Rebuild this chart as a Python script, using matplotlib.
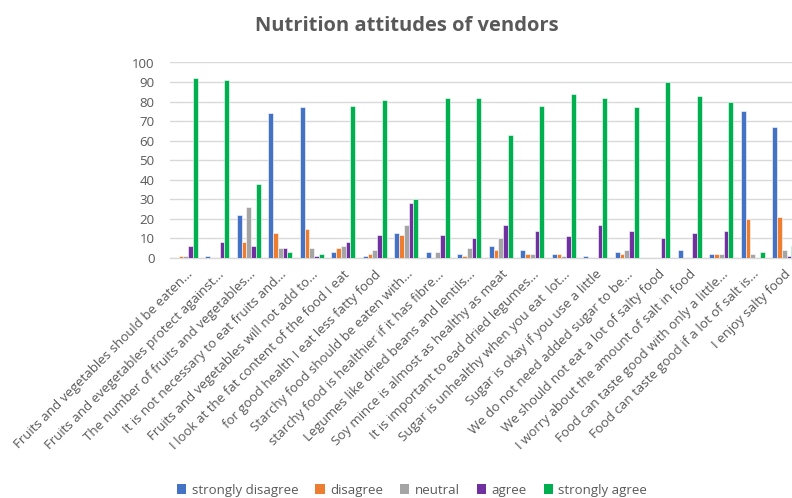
import numpy as np
import matplotlib
matplotlib.use("Agg")
import matplotlib.pyplot as plt
from matplotlib.patches import Patch

# ── Data ───────────────────────────────────────────────────────────────────
statements = [
    "Fruits and vegetables should be eaten...",
    "Fruits and evegetables protect against...",
    "The number of fruits and vegetables...",
    "It is not necessary to eat fruits and...",
    "Fruits and vegetables will not add to...",
    "I look at the fat content of the food I eat",
    "for good health I eat less fatty food",
    "Starchy food should be eaten with...",
    "starchy food is healthier if it has fibre...",
    "Legumes like dried beans and lentils...",
    "Soy mince is almost as healthy as meat",
    "It is important to ead dried legumes...",
    "Sugar is unhealthy when you eat  lot...",
    "Sugar is okay if you use a little",
    "We do not need added sugar to be...",
    "We should not eat a lot of salty food",
    "I worry about the amount of salt in food",
    "Food can taste good with only a little...",
    "Food can taste good if a lot of salt is...",
    "I enjoy salty food",
]

strongly_disagree = [0, 1, 22, 74, 77, 3, 1, 13, 3, 2, 6, 4, 2, 1, 3, 0, 4, 2, 75, 67]
disagree          = [1, 0, 8, 13, 15, 5, 2, 12, 0, 1, 4, 2, 2, 0, 2, 0, 0, 2, 20, 21]
neutral           = [1, 0, 26, 5, 5, 6, 4, 17, 3, 5, 10, 2, 1, 0, 4, 0, 0, 2, 2, 4]
agree             = [6, 8, 6, 5, 1, 8, 12, 28, 12, 10, 17, 14, 11, 17, 14, 10, 13, 14, 0, 1]
strongly_agree    = [92, 91, 38, 3, 2, 78, 81, 30, 82, 82, 63, 78, 84, 82, 77, 90, 83, 80, 3, 6]

series = [
    ("strongly disagree", strongly_disagree, "#4472C4"),
    ("disagree",          disagree,          "#ED7D31"),
    ("neutral",           neutral,           "#A5A5A5"),
    ("agree",             agree,             "#7030A0"),
    ("strongly agree",    strongly_agree,    "#00B050"),
]

# ── Style ──────────────────────────────────────────────────────────────────
TXT   = "#595959"
GRID  = "#D9D9D9"
FONT  = "Open Sans"
W, H  = 792, 498
BAR_W = 0.15

plt.rcParams["font.family"] = FONT

fig = plt.figure(figsize=(W / 100, H / 100), dpi=100)
# plot area: x 170..800 px (last bar clipped like the original), y 62..258 px
ax = fig.add_axes([170 / W, (H - 258) / H, 630 / W, (258 - 62.5) / H])

x = np.arange(len(statements))
for i, (name, vals, colour) in enumerate(series):
    ax.bar(x + (i - 2) * BAR_W, vals, width=BAR_W, color=colour,
           edgecolor="white", linewidth=0.4, label=name, zorder=3)

ax.set_xlim(-0.5, len(statements) - 0.5)
ax.set_ylim(0, 100)
ax.set_yticks(range(0, 101, 10))
ax.yaxis.grid(True, color=GRID, lw=1.0)
ax.set_axisbelow(True)
for s in ("top", "right", "left"):
    ax.spines[s].set_visible(False)
ax.spines["bottom"].set_color(GRID)
ax.spines["bottom"].set_linewidth(1.0)
ax.tick_params(axis="both", length=0, colors=TXT, labelsize=9.5)
ax.tick_params(axis="y", pad=11)

ax.set_xticks(x)
ax.set_xticklabels(statements, rotation=45, ha="right", va="top",
                   rotation_mode="anchor", fontsize=9.5, color=TXT)
ax.tick_params(axis="x", pad=7)

fig.text(407 / W, 1 - 26 / H, "Nutrition attitudes of vendors",
         ha="center", va="center", fontsize=14.5, fontweight="bold", color=TXT)

handles = [Patch(facecolor=c, label=n) for n, _, c in series]
fig.legend(handles=handles, loc="center", bbox_to_anchor=(412 / W, 1 - 490 / H),
           ncol=5, frameon=False, fontsize=9.5, labelcolor=TXT,
           handlelength=0.7, handleheight=0.7, handletextpad=0.4,
           columnspacing=1.3)

fig.savefig("out.png", dpi=100)
